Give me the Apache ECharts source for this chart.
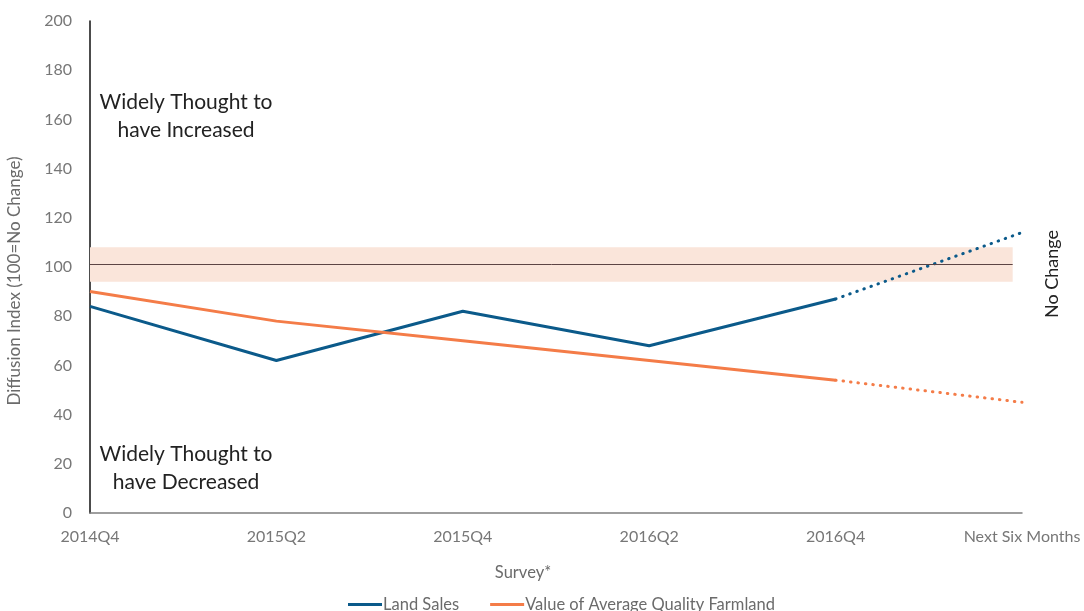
<!DOCTYPE html>
<html>
<head>
<meta charset="utf-8">
<script src="https://cdn.jsdelivr.net/npm/echarts@6/dist/echarts.min.js"></script>
<style>
  html, body { margin: 0; padding: 0; background: #fff; }
  #chart { width: 1084px; height: 611px; }
</style>
</head>
<body>
<div id="chart"></div>
<script>
// Survey periods and diffusion-index readings
const categories = ['2014Q4', '2015Q2', '2015Q4', '2016Q2', '2016Q4', 'Next Six Months'];
const landSales = [84, 62, 82, 68, 87, 114];
const farmlandValue = [90, 78, 70, 62, 54, 45];
const yTicks = { min: 0, max: 200, interval: 20 };
// "No change" reference band and line
const noChangeBand = [94, 108];
const noChangeLine = 101;
const bandEnd = 4.95;

const blue = '#0b5a8a';
const orange = '#f47c48';
const font = 'Lato, "Open Sans", sans-serif';

// Split each series: observed part solid, expectation part dotted
const solidPart = arr => arr.map((v, i) => (i < arr.length - 1 ? v : null));
const dottedPart = arr => arr.map((v, i) => (i >= arr.length - 2 ? v : null));

const chart = echarts.init(document.getElementById('chart'));
chart.setOption({
  animation: false,
  grid: { left: 90, right: 62, top: 21, bottom: 98, outerBoundsMode: 'none', containLabel: false },
  legend: {
    bottom: -7,
    left: 343,
    itemWidth: 34,
    itemHeight: 3,
    itemGap: 31,
    icon: 'rect',
    textStyle: { color: '#6b6b6b', fontFamily: font, fontSize: 16.5, padding: [0, 0, 0, -4] },
    data: ['Land Sales', 'Value of Average Quality Farmland']
  },
  xAxis: [{
    type: 'category',
    data: categories,
    boundaryGap: false,
    axisLine: { lineStyle: { color: '#7f7f7f', width: 1.5 } },
    axisTick: { show: false },
    axisLabel: { color: '#777', fontFamily: font, fontSize: 16, margin: 16 },
    splitLine: { show: false }
  }, {
    type: 'value',
    min: 0,
    max: 5,
    show: false
  }],
  yAxis: {
    type: 'value',
    min: yTicks.min,
    max: yTicks.max,
    interval: yTicks.interval,
    axisLine: { show: true, lineStyle: { color: '#111', width: 1.5 } },
    axisTick: { show: false },
    axisLabel: { color: '#777', fontFamily: font, fontSize: 16, margin: 18 },
    splitLine: { show: false }
  },
  series: [
    {
      type: 'line',
      xAxisIndex: 1,
      data: [],
      silent: true,
      markArea: {
        silent: true,
        itemStyle: { color: '#fae5da' },
        data: [[{ xAxis: 0, yAxis: noChangeBand[0] }, { xAxis: bandEnd, yAxis: noChangeBand[1] }]]
      },
      markLine: {
        silent: true,
        symbol: 'none',
        label: { show: false },
        lineStyle: { color: '#5c4444', width: 1, type: 'solid' },
        data: [[{ coord: [0, noChangeLine] }, { coord: [bandEnd, noChangeLine] }]]
      }
    },
    {
      name: 'Land Sales',
      type: 'line',
      data: solidPart(landSales),
      symbol: 'none',
      color: blue,
      lineStyle: { color: blue, width: 3 }
    },
    {
      name: 'Land Sales',
      type: 'line',
      data: dottedPart(landSales),
      symbol: 'none',
      color: blue,
      lineStyle: { color: blue, width: 3, type: [0.5, 7], cap: 'round' }
    },
    {
      name: 'Value of Average Quality Farmland',
      type: 'line',
      data: solidPart(farmlandValue),
      symbol: 'none',
      color: orange,
      lineStyle: { color: orange, width: 3 }
    },
    {
      name: 'Value of Average Quality Farmland',
      type: 'line',
      data: dottedPart(farmlandValue),
      symbol: 'none',
      color: orange,
      lineStyle: { color: orange, width: 3, type: [0.5, 7], cap: 'round' }
    }
  ],
  graphic: [
    // axis titles
    {
      type: 'text',
      x: 15, y: 281,
      rotation: Math.PI / 2,
      style: {
        text: 'Diffusion Index (100=No Change)',
        align: 'center', verticalAlign: 'middle',
        fill: '#6b6b6b', font: '17px ' + font
      }
    },
    {
      type: 'text',
      x: 523, y: 573,
      style: {
        text: 'Survey*',
        align: 'center', verticalAlign: 'middle',
        fill: '#6b6b6b', font: '16.5px ' + font
      }
    },
    // region annotations
    {
      type: 'text',
      x: 186, y: 88,
      style: {
        text: 'Widely Thought to\nhave Increased',
        align: 'center',
        fill: '#222', font: '21px ' + font, lineHeight: 28
      }
    },
    {
      type: 'text',
      x: 186, y: 440,
      style: {
        text: 'Widely Thought to\nhave Decreased',
        align: 'center',
        fill: '#222', font: '21px ' + font, lineHeight: 28
      }
    },
    {
      type: 'text',
      x: 1052, y: 274,
      rotation: Math.PI / 2,
      style: {
        text: 'No Change',
        align: 'center', verticalAlign: 'middle',
        fill: '#222', font: '18px ' + font
      }
    }
  ]
});
</script>
</body>
</html>
